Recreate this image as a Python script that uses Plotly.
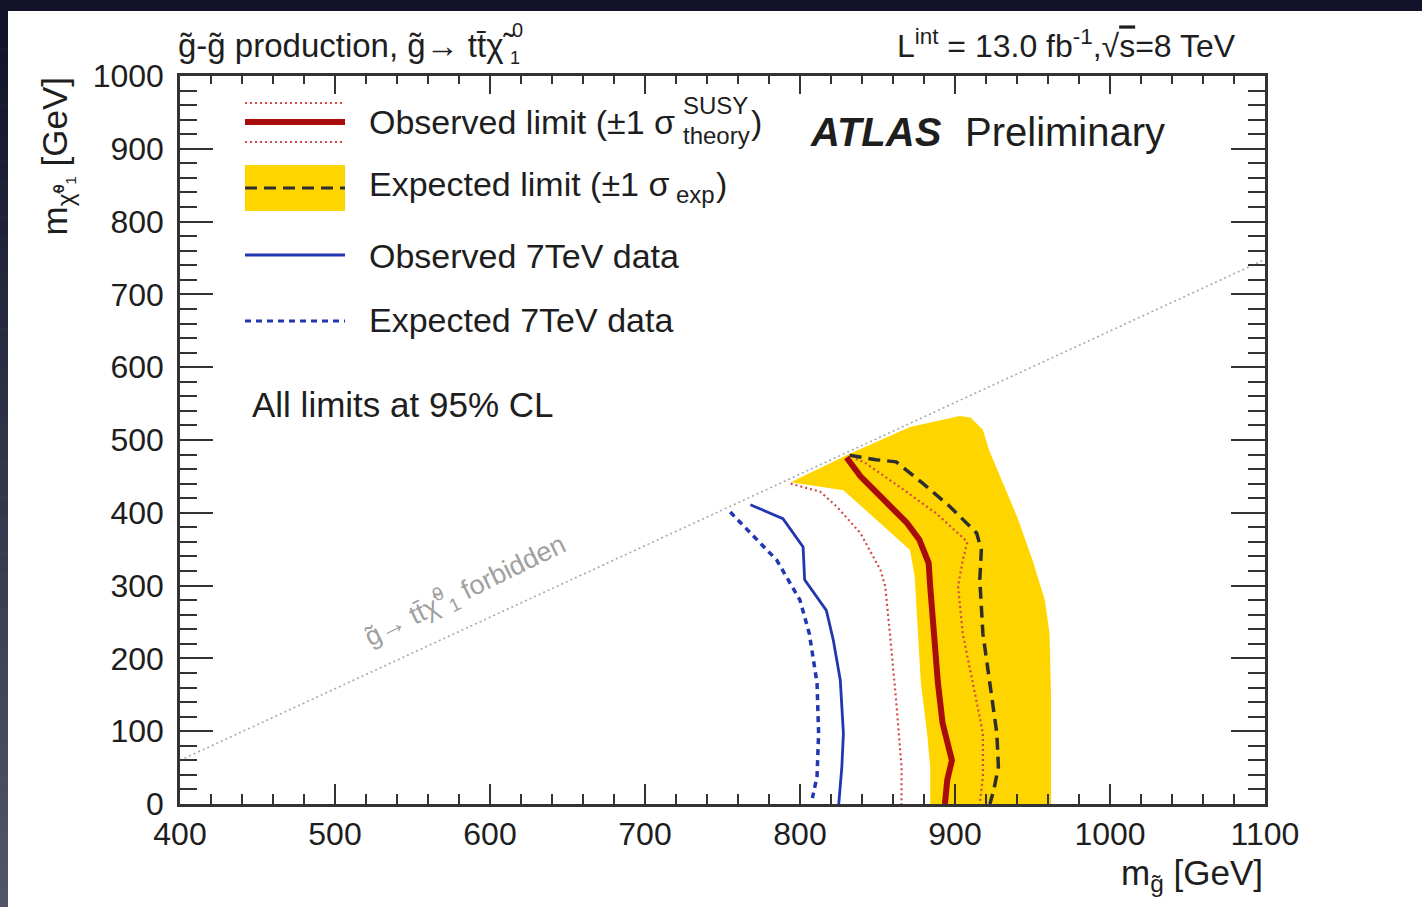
import plotly.graph_objects as go

# ---------------------------------------------------------------
# Exclusion contours in the (m_gluino, m_neutralino) plane, GeV
# ---------------------------------------------------------------
# expected limit, +1 sigma_exp edge (outer side of the band)
exp_up_mg = [794, 832, 871, 903, 910, 918, 922, 931, 940, 950, 958, 961, 962, 962]
exp_up_mchi = [442, 481, 518, 533, 531, 514, 486, 440, 395, 335, 280, 234, 143, 0]
# expected limit, -1 sigma_exp edge (inner side of the band)
exp_dn_mg = [794, 828, 854, 871, 874, 874, 876, 878, 882, 884, 884]
exp_dn_mchi = [442, 431, 381, 349, 312, 299, 234, 166, 97, 51, 0]

# expected limit (central)
exp_mg = [832, 849, 862, 879.5, 897, 914, 917, 916, 918, 922.5, 927, 928, 925, 922.5]
exp_mchi = [479, 473, 470, 440, 408, 372, 349, 308, 234, 166, 97, 51, 19, 0]

# observed limit (central)
obs_mg = [830, 839, 854, 869, 877, 883, 884, 886, 889, 892, 898, 895, 893.5]
obs_mchi = [476, 450, 418, 386, 363, 331, 299, 234, 166, 111, 60, 33, 0]

# observed limit, -1 sigma_theory
obs_dn_mg = [794, 813, 824, 839, 852, 855, 858, 862, 865.5, 865.5]
obs_dn_mchi = [440, 429, 408, 372, 321, 299, 234, 143, 51, 0]

# observed limit, +1 sigma_theory
obs_up_mg = [836, 841, 864, 888, 908, 905, 902, 905, 912, 918, 918, 916]
obs_up_mchi = [474, 470, 436, 399, 360, 335, 299, 234, 161, 97, 38, 0]

# 7 TeV results
obs7_mg = [768, 789, 802, 803, 817, 821.5, 826, 828, 827, 825]
obs7_mchi = [411, 392, 353, 308, 266, 225, 170, 97, 51, 0]
exp7_mg = [755, 768, 785, 800, 806, 811, 812, 811, 808]
exp7_mchi = [401, 372, 335, 280, 234, 166, 97, 38, 8]

# kinematic boundary g -> t tbar chi
kin_mg = [400, 1100]
kin_mchi = [60, 748]

x_ticks = [400, 500, 600, 700, 800, 900, 1000, 1100]
y_ticks = [0, 100, 200, 300, 400, 500, 600, 700, 800, 900, 1000]

# ---------------------------------------------------------------
W, H = 1422, 907
ML, MR, MT, MB = 180, 157, 76, 103
PW = W - ML - MR
PH = H - MT - MB


def px(X):
    return (X - ML) / PW


def py(Y):
    return (H - MB - Y) / PH


FONT = "Liberation Sans, Arial, Helvetica, sans-serif"
TXT = "#1e1e1e"
YELLOW = "#ffd500"
RED = "#a80c0c"
RED_LIGHT = "#d24a4a"
BLUE = "#2236b0"
DARK = "#2e2e2e"

fig = go.Figure()

# +-1 sigma expected band
fig.add_trace(go.Scatter(
    x=exp_up_mg + exp_dn_mg[::-1], y=exp_up_mchi + exp_dn_mchi[::-1],
    fill="toself", fillcolor=YELLOW, line=dict(width=0), mode="lines",
    hoverinfo="skip"))

# kinematic boundary
fig.add_trace(go.Scatter(x=kin_mg, y=kin_mchi, mode="lines",
                         line=dict(color="#a8a8a8", width=1.6, dash="2px,3px")))

fig.add_trace(go.Scatter(x=obs_dn_mg, y=obs_dn_mchi, mode="lines",
                         line=dict(color=RED_LIGHT, width=2.2, dash="2px,3px")))
fig.add_trace(go.Scatter(x=obs_up_mg, y=obs_up_mchi, mode="lines",
                         line=dict(color=RED_LIGHT, width=2.2, dash="2px,3px")))
fig.add_trace(go.Scatter(x=exp_mg, y=exp_mchi, mode="lines",
                         line=dict(color=DARK, width=3.5, dash="12px,7px")))
fig.add_trace(go.Scatter(x=obs_mg, y=obs_mchi, mode="lines",
                         line=dict(color=RED, width=6)))
fig.add_trace(go.Scatter(x=obs7_mg, y=obs7_mchi, mode="lines",
                         line=dict(color=BLUE, width=2.8)))
fig.add_trace(go.Scatter(x=exp7_mg, y=exp7_mchi, mode="lines",
                         line=dict(color=BLUE, width=3.5, dash="6px,5px")))

# empty trace on the mirrored axes so the top/right frame ticks are drawn
fig.add_trace(go.Scatter(x=[None], y=[None], xaxis="x2", yaxis="y2", mode="lines"))

axis_common = dict(showline=True, linecolor="#333333", linewidth=2.5,
                   showgrid=False, zeroline=False, ticks="inside",
                   tickcolor="#333333", tickwidth=2)

fig.update_layout(
    width=W, height=H,
    margin=dict(l=ML, r=MR, t=MT, b=MB, pad=0),
    paper_bgcolor="white", plot_bgcolor="white",
    showlegend=False,
    font=dict(family=FONT, color=TXT),
    xaxis=dict(axis_common, range=[400, 1100], tickvals=x_ticks, ticklen=20,
               minor=dict(ticks="inside", dtick=20, tick0=400, ticklen=10,
                          tickcolor="#333333", tickwidth=2),
               tickfont=dict(size=32, color=TXT), ticklabelstandoff=0),
    yaxis=dict(axis_common, range=[0, 1000], tickvals=y_ticks, ticklen=33,
               minor=dict(ticks="inside", dtick=20, tick0=0, ticklen=17,
                          tickcolor="#333333", tickwidth=2),
               tickfont=dict(size=32, color=TXT), ticklabelstandoff=7),
    xaxis2=dict(axis_common, range=[400, 1100], tickvals=x_ticks, ticklen=18,
                minor=dict(ticks="inside", dtick=20, tick0=400, ticklen=8,
                           tickcolor="#333333", tickwidth=2),
                overlaying="x", side="top", anchor="y", matches="x",
                showticklabels=False),
    yaxis2=dict(axis_common, range=[0, 1000], tickvals=y_ticks, ticklen=34,
                minor=dict(ticks="inside", dtick=20, tick0=0, ticklen=17,
                           tickcolor="#333333", tickwidth=2),
                overlaying="y", side="right", anchor="x", matches="y",
                showticklabels=False),
)

shapes = []
# dark slide frame: top bar and a left bar shading from navy to slate
shapes.append(dict(type="rect", xref="paper", yref="paper", layer="above",
                   x0=px(0), x1=px(W), y0=py(11), y1=py(0),
                   fillcolor="#12132a", line=dict(width=0)))
top_rgb = (18, 19, 42)
bot_rgb = (82, 85, 106)
n = 48
for i in range(n):
    t = i / (n - 1)
    rgb = tuple(round(a + (b - a) * t) for a, b in zip(top_rgb, bot_rgb))
    y_top = 11 + (H - 11) * i / n
    y_bot = 11 + (H - 11) * (i + 1) / n + 0.6
    shapes.append(dict(type="rect", xref="paper", yref="paper", layer="above",
                       x0=px(0), x1=px(8), y0=py(y_bot), y1=py(y_top),
                       fillcolor="rgb(%d,%d,%d)" % rgb, line=dict(width=0)))

# legend samples
LX0, LX1 = 245, 345
shapes += [
    dict(type="line", xref="paper", yref="paper", x0=px(LX0), x1=px(LX1),
         y0=py(103), y1=py(103), line=dict(color=RED_LIGHT, width=2.2, dash="2px,3px")),
    dict(type="line", xref="paper", yref="paper", x0=px(LX0), x1=px(LX1),
         y0=py(122), y1=py(122), line=dict(color=RED, width=6)),
    dict(type="line", xref="paper", yref="paper", x0=px(LX0), x1=px(LX1),
         y0=py(142), y1=py(142), line=dict(color=RED_LIGHT, width=2.2, dash="2px,3px")),
    dict(type="rect", xref="paper", yref="paper", x0=px(LX0), x1=px(LX1),
         y0=py(211), y1=py(165), fillcolor=YELLOW, line=dict(width=0)),
    dict(type="line", xref="paper", yref="paper", x0=px(LX0), x1=px(LX1),
         y0=py(188), y1=py(188), line=dict(color=DARK, width=3, dash="12px,7px")),
    dict(type="line", xref="paper", yref="paper", x0=px(LX0), x1=px(LX1),
         y0=py(255), y1=py(255), line=dict(color=BLUE, width=2.8)),
    dict(type="line", xref="paper", yref="paper", x0=px(LX0), x1=px(LX1),
         y0=py(321), y1=py(321), line=dict(color=BLUE, width=3.2, dash="6px,5px")),
]
fig.update_layout(shapes=shapes)


def label(text, X, Y, size, xanchor="left", yanchor="middle", color=TXT, **kw):
    fig.add_annotation(text=text, xref="paper", yref="paper", x=px(X), y=py(Y),
                       xanchor=xanchor, yanchor=yanchor, showarrow=False,
                       font=dict(family=FONT, size=size, color=color), **kw)


# legend text
label("Observed limit (±1 σ", 367, 122, 34)
label("SUSY", 681, 106, 24)
label("theory", 681, 135, 24)
label(")", 749, 122, 34)
label("Expected limit (±1 σ", 367, 184, 34)
label("exp", 674, 194, 24)
label(")", 714, 184, 34)
label("Observed 7TeV data", 367, 256, 34)
label("Expected 7TeV data", 367, 320, 34)
label("All limits at 95% CL", 250, 405, 35)

label("<b><i>ATLAS</i></b>", 808, 132, 40)
label("Preliminary", 963, 132, 40)

# header lines
label("g\u0303-g\u0303 production, g\u0303\u2192 tt\u0304\u03c7\u0303", 176, 46, 33)
label("0", 510, 30, 20)
label("1", 508, 58, 18)
label("L<sup>int</sup> = 13.0 fb<sup>-1</sup>,√<span style='text-decoration:overline'>s</span>=8 TeV",
      1238, 44, 32, xanchor="right")

# axis titles
label("m<sub>g\u0303</sub> [GeV]", 1265, 875, 35, xanchor="right")
label("m<sub>\u03c7\u0303\u2070\u2081</sub> [GeV]", 56, 75, 35, xanchor="center",
      yanchor="top", textangle=-90)

# kinematic boundary label
fig.add_annotation(text="g\u0303\u2192 tt\u0304\u03c7\u0303<sup>0</sup><sub>1</sub> forbidden",
                   x=584, y=294, xref="x", yref="y", showarrow=False,
                   textangle=-26, font=dict(family=FONT, size=27, color="#a0a0a0"))

fig.write_html("out.html")
